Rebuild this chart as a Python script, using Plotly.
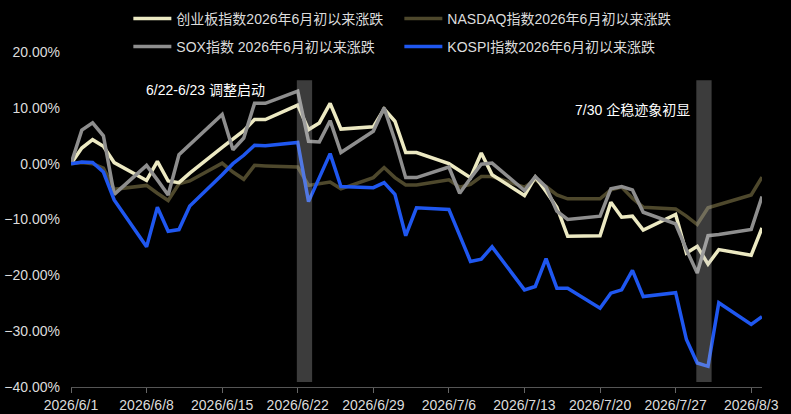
import pandas as pd
import plotly.graph_objects as go

# 交易日（2026/6/1 - 2026/8/4）
dates = [
    "2026-06-01", "2026-06-02", "2026-06-03", "2026-06-04", "2026-06-05",
    "2026-06-08", "2026-06-09", "2026-06-10", "2026-06-11", "2026-06-12",
    "2026-06-15", "2026-06-16", "2026-06-17", "2026-06-18", "2026-06-19",
    "2026-06-22", "2026-06-23", "2026-06-24", "2026-06-25", "2026-06-26",
    "2026-06-29", "2026-06-30", "2026-07-01", "2026-07-02", "2026-07-03",
    "2026-07-06", "2026-07-07", "2026-07-08", "2026-07-09", "2026-07-10",
    "2026-07-13", "2026-07-14", "2026-07-15", "2026-07-16", "2026-07-17",
    "2026-07-20", "2026-07-21", "2026-07-22", "2026-07-23", "2026-07-24",
    "2026-07-27", "2026-07-28", "2026-07-29", "2026-07-30", "2026-07-31",
    "2026-08-03", "2026-08-04",
]

# 涨跌幅（%）
chinext = [
    0.0, 2.8, 4.3, 3.1, 0.2,
    -3.0, 0.4, -3.1, -3.4, -1.7,
    2.9, 4.4, 5.9, 7.9, 7.9,
    10.5, 6.1, 7.3, 10.8, 6.2,
    6.6, 9.8, 7.6, 2.0, 2.0,
    0.0, -1.3, -2.5, 1.9, -2.0,
    -5.7, -2.4, -5.0, -7.8, -13.0,
    -12.9, -6.9, -9.6, -9.4, -11.9,
    -9.1, -16.0, -14.8, -18.0, -15.4,
    -16.4, -11.5,
]
nasdaq = [
    0.0, 0.2, 0.0, -0.8, -4.6,
    -3.9, -5.3, -6.6, -3.6, -3.1,
    0.1, -1.5, -2.8, -0.3, -0.4,
    -0.6, -3.9, -3.6, -3.3, -4.5,
    -2.5, -0.7, -2.5, -3.8, -3.8,
    -2.9, -4.2, -3.7, -2.3, -2.3,
    -4.2, -2.9, -4.1, -5.6, -6.3,
    -6.3, -4.7, -4.2, -6.2, -7.8,
    -8.1, -9.4, -10.9, -7.9, -7.3,
    -5.6, -2.4,
]
sox = [
    0.0, 6.0, 7.3, 5.0, -5.5,
    -0.3, -2.9, -5.6, 1.6, 3.4,
    8.8, 2.5, 4.6, 10.8, 10.8,
    13.0, 4.0, 3.9, 7.7, 2.0,
    5.8, 10.0, 4.2, -2.5, -2.5,
    -0.6, -5.3, -2.6, -0.1, 0.1,
    -4.8, -2.3, -4.2, -8.5, -10.0,
    -9.4, -4.5, -4.1, -4.7, -8.7,
    -10.8, -15.4, -19.6, -12.9, -12.7,
    -11.8, -5.9,
]
kospi = [
    0.0, 0.3, 0.2, -1.5, -6.5,
    -14.9, -7.8, -12.1, -11.8, -7.6,
    -2.0, 0.0, 1.5, 3.3, 3.2,
    3.8, -6.8, -2.5, 1.8, -4.1,
    -4.3, -3.4, -5.5, -12.9, -7.9,
    -8.2, -12.8, -17.5, -17.1, -14.9,
    -22.6, -22.0, -17.0, -22.3, -22.3,
    -25.9, -23.2, -22.6, -19.1, -23.8,
    -23.1, -31.5, -35.7, -36.3, -24.9,
    -28.8, -27.4,
]

# 事件区间与说明
event_starts = ["2026-06-22", "2026-07-29"]
event_ends = ["2026-06-23", "2026-07-30"]
event_texts = ["6/22-6/23 调整启动", "7/30 企稳迹象初显"]

FONT = "Liberation Sans, Arial, Noto Sans CJK SC, sans-serif"
TEXT_COLOR = "#dcdcdc"

x = pd.to_datetime(dates)

# (名称, 数据, 颜色, 图例, 图例顺序) — 画的顺序：NASDAQ 在最下，KOSPI 在最上
traces = [
    ("NASDAQ指数2026年6月初以来涨跌", nasdaq, "#4e482c", "legend", 2),
    ("创业板指数2026年6月初以来涨跌", chinext, "#ece9c2", "legend", 1),
    ("SOX指数 2026年6月初以来涨跌", sox, "#8e8e8e", "legend2", 1),
    ("KOSPI指数2026年6月初以来涨跌", kospi, "#1f57f0", "legend2", 2),
]

fig = go.Figure()
for name, vals, color, legend, rank in traces:
    fig.add_trace(
        go.Scatter(
            x=x,
            y=[v / 100 for v in vals],
            mode="lines",
            name=name,
            line=dict(color=color, width=3.5),
            legend=legend,
            legendrank=rank,
        )
    )

# 灰色竖条（半透明，压在线上）
for s, e in zip(event_starts, event_ends):
    fig.add_shape(
        type="rect",
        xref="x",
        yref="paper",
        x0=pd.Timestamp(s) - pd.Timedelta(hours=2),
        x1=pd.Timestamp(e) + pd.Timedelta(hours=8),
        y0=0.015,
        y1=0.916,
        fillcolor="rgba(200,200,200,0.3)",
        line_width=0,
        layer="above",
    )

fig.add_annotation(
    text=event_texts[0], xref="paper", yref="paper", x=0.106, y=0.887,
    xanchor="left", yanchor="middle", showarrow=False,
    font=dict(size=14, color="#ffffff", family=FONT),
)
fig.add_annotation(
    text=event_texts[1], xref="paper", yref="paper", x=0.898, y=0.827,
    xanchor="right", yanchor="middle", showarrow=False,
    font=dict(size=14, color="#ffffff", family=FONT),
)

legend_style = dict(
    orientation="h",
    x=0.083,
    xanchor="left",
    yanchor="middle",
    bgcolor="rgba(0,0,0,0)",
    font=dict(size=14, color=TEXT_COLOR, family=FONT),
    entrywidth=218,
    entrywidthmode="pixels",
    itemwidth=38,
    traceorder="normal",
)

fig.update_layout(
    width=791,
    height=414,
    margin=dict(l=71, r=29, t=52, b=27, autoexpand=False),
    paper_bgcolor="black",
    plot_bgcolor="black",
    font=dict(family=FONT, size=14, color=TEXT_COLOR),
    legend=dict(legend_style, y=1.0985),
    legend2=dict(legend_style, y=1.0149),
    showlegend=True,
)
fig.update_xaxes(
    type="date",
    range=["2026-06-01", "2026-08-04"],
    tick0="2026-06-01",
    dtick=7 * 86400000,
    tickformat="%Y/%-m/%-d",
    ticks="outside",
    ticklen=5,
    tickcolor="#666666",
    showline=True,
    linecolor="#555555",
    linewidth=1,
    showgrid=False,
    zeroline=False,
    automargin=False,
    tickfont=dict(size=14, color=TEXT_COLOR),
)
fig.update_yaxes(
    range=[-0.40, 0.20],
    dtick=0.10,
    tickformat=".2%",
    showgrid=False,
    zeroline=False,
    showline=False,
    automargin=False,
    ticklabelstandoff=10,
    tickfont=dict(size=14, color=TEXT_COLOR),
)

fig.write_html(
    "out.html",
    config={"displayModeBar": False},
    post_script="document.body.style.margin='0';",
)
